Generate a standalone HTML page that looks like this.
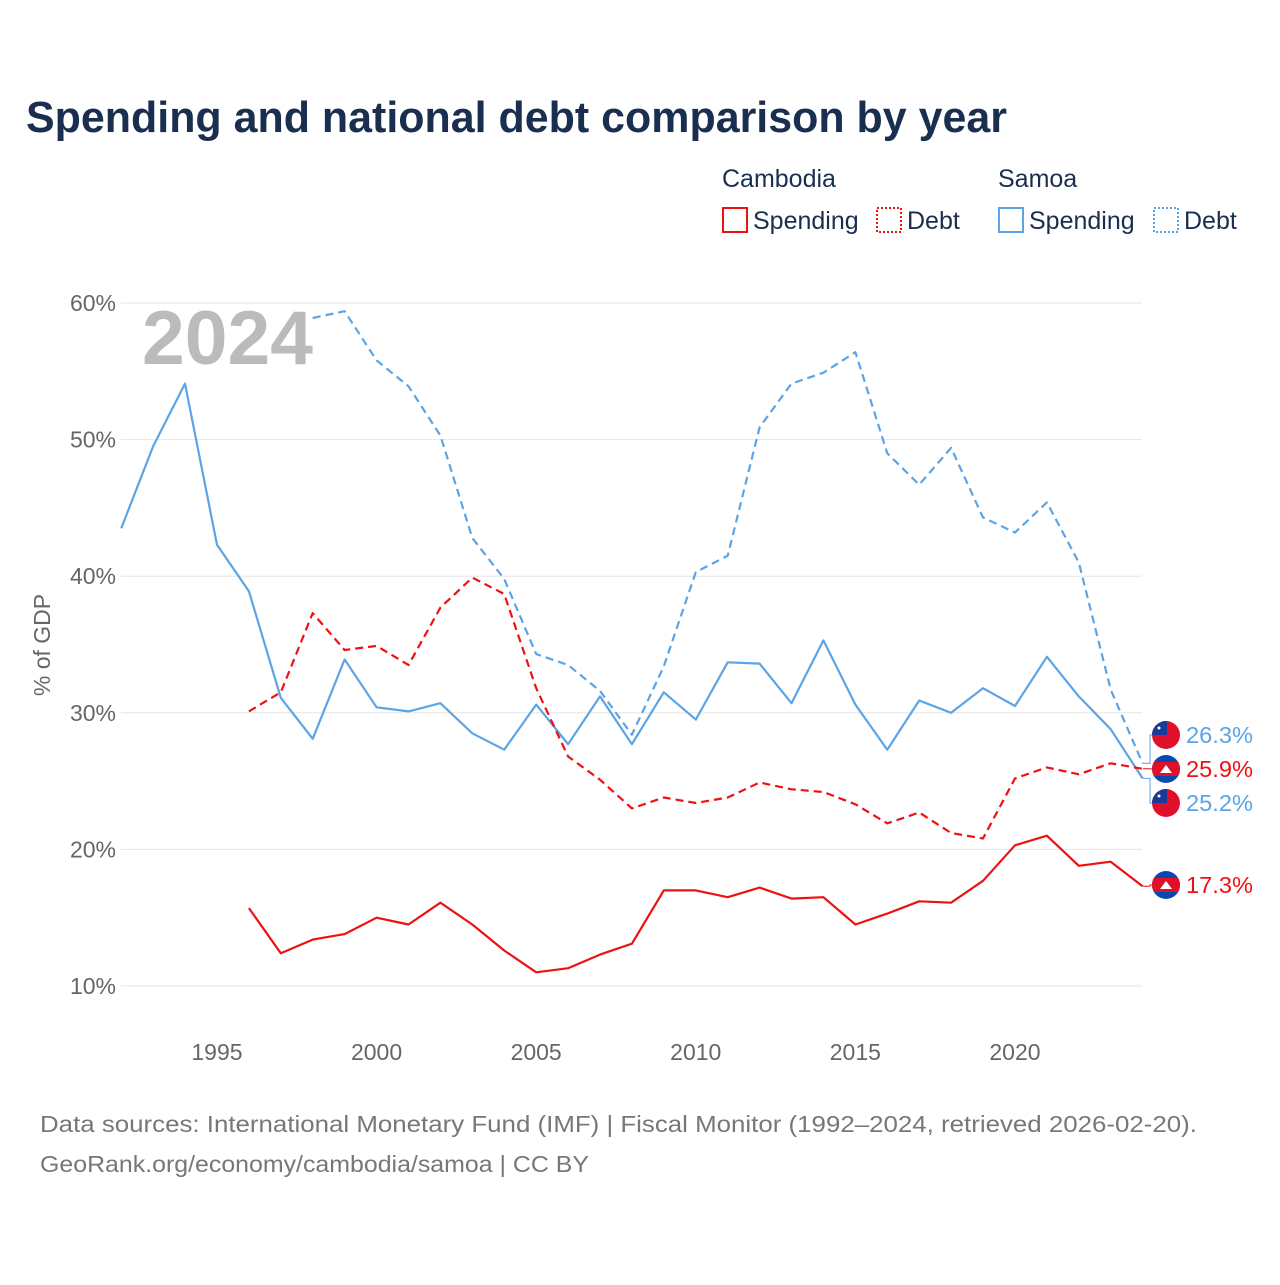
<!DOCTYPE html>
<html><head><meta charset="utf-8">
<style>
body{margin:0;background:#fff;width:1280px;height:1280px;overflow:hidden;font-family:"Liberation Sans",sans-serif}
</style></head>
<body>
<svg id="chart" width="1280" height="1280" xmlns="http://www.w3.org/2000/svg" font-family="Liberation Sans, sans-serif">
<text x="26" y="132" font-size="44" font-weight="bold" fill="#1a2e50" textLength="981" lengthAdjust="spacingAndGlyphs">Spending and national debt comparison by year</text>
<g font-size="25" fill="#1a2e50">
<text x="722" y="187">Cambodia</text><text x="998" y="187">Samoa</text>
<g><rect x="723" y="208" width="24" height="24" fill="none" stroke="#ee1111" stroke-width="2"/><text x="753" y="229">Spending</text></g>
<g><rect x="877" y="208" width="24" height="24" fill="none" stroke="#ee1111" stroke-width="2" stroke-dasharray="2,2"/><text x="907" y="229">Debt</text></g>
<g><rect x="999" y="208" width="24" height="24" fill="none" stroke="#5ba4e6" stroke-width="2"/><text x="1029" y="229">Spending</text></g>
<g><rect x="1154" y="208" width="24" height="24" fill="none" stroke="#5ba4e6" stroke-width="2" stroke-dasharray="2,2"/><text x="1184" y="229">Debt</text></g>
</g>
<g id="grid"></g>
<g id="yticks" font-size="23" fill="#666" text-anchor="end"></g>
<g id="xticks" font-size="23" fill="#666" text-anchor="middle"></g>
<text transform="translate(50,645) rotate(-90)" font-size="23" fill="#666" text-anchor="middle">% of GDP</text>
<text x="142" y="364" font-size="76" font-weight="bold" fill="#bbb" textLength="171" lengthAdjust="spacingAndGlyphs">2024</text>
<g id="series"></g>
<g id="endlabels" font-size="23"></g>
<text x="40" y="1132" font-size="23" fill="#777" textLength="1157" lengthAdjust="spacingAndGlyphs">Data sources: International Monetary Fund (IMF) | Fiscal Monitor (1992–2024, retrieved 2026-02-20).</text>
<text x="40" y="1172" font-size="23" fill="#777" textLength="549" lengthAdjust="spacingAndGlyphs">GeoRank.org/economy/cambodia/samoa | CC BY</text>
</svg>
<script>
const years=[];for(let y=1992;y<=2024;y++)years.push(y);
const yTicks=[10,20,30,40,50,60];
const xTicks=[1995,2000,2005,2010,2015,2020];
const samoaSpending=[43.5,49.5,54.1,42.3,38.9,31.1,28.1,33.9,30.4,30.1,30.7,28.5,27.3,30.6,27.7,31.2,27.7,31.5,29.5,33.7,33.6,30.7,35.3,30.6,27.3,30.9,30.0,31.8,30.5,34.1,31.2,28.8,25.2];
const samoaDebt=[null,null,null,null,null,null,58.9,59.4,55.8,53.9,50.3,42.8,39.8,34.3,33.5,31.6,28.4,33.4,40.3,41.5,50.9,54.1,54.9,56.4,49.0,46.7,49.4,44.3,43.2,45.4,41.0,31.7,26.3];
const cambodiaDebt=[null,null,null,null,30.1,31.5,37.3,34.6,34.9,33.5,37.7,39.9,38.7,31.8,26.8,25.1,23.0,23.8,23.4,23.8,24.9,24.4,24.2,23.3,21.9,22.7,21.2,20.8,25.2,26.0,25.5,26.3,25.9];
const cambodiaSpending=[null,null,null,null,15.7,12.4,13.4,13.8,15.0,14.5,16.1,14.5,12.6,11.0,11.3,12.3,13.1,17.0,17.0,16.5,17.2,16.4,16.5,14.5,15.3,16.2,16.1,17.7,20.3,21.0,18.8,19.1,17.3];
const NS="http://www.w3.org/2000/svg";
const X=y=>121.2+(y-1992)*31.92, Y=v=>986-(v-10)*13.66;
function mk(t,a,p){const e=document.createElementNS(NS,t);for(const k in a)e.setAttribute(k,a[k]);p.appendChild(e);return e;}
const grid=document.getElementById('grid'),yt=document.getElementById('yticks'),xt=document.getElementById('xticks');
yTicks.forEach(v=>{const l=mk('line',{x1:121,x2:1142,y1:Y(v),y2:Y(v),stroke:'#e6e6e6','stroke-width':1},grid);


const t=mk('text',{x:116,y:Y(v)+8},yt);t.textContent=v+'%';

});
xTicks.forEach(v=>{const t=mk('text',{x:X(v),y:1060},xt);t.textContent=v;

});
const S=document.getElementById('series');
function line(arr,color,dash,name){let d='';arr.forEach((v,i)=>{if(v==null)return;d+=(d?'L':'M')+X(years[i]).toFixed(1)+','+Y(v).toFixed(1);});
const p=mk('path',{d:d,fill:'none',stroke:color,'stroke-width':2.2,'stroke-dasharray':dash||'none','stroke-linejoin':'round'},S);

}
line(samoaDebt,'#5ba4e6','8,5','samoa-debt-line');
line(samoaSpending,'#5ba4e6','','samoa-spending-line');
line(cambodiaDebt,'#ee1111','8,5','cambodia-debt-line');
line(cambodiaSpending,'#ee1111','','cambodia-spending-line');
const E=document.getElementById('endlabels');
const last=years.length-1;
function flag(cx,cy,country){const g=mk('g',{},E);


const id='c'+Math.round(cy);const cp=mk('clipPath',{id:id},g);mk('circle',{cx:cx,cy:cy,r:14},cp);
const gg=mk('g',{'clip-path':'url(#'+id+')'},g);
if(country==='samoa'){mk('rect',{x:cx-14,y:cy-14,width:28,height:28,fill:'#e0102a'},gg);mk('rect',{x:cx-14,y:cy-14,width:15,height:14,fill:'#1a3a9a'},gg);mk('circle',{cx:cx-7,cy:cy-7,r:1.5,fill:'#fff'},gg);}
else{mk('rect',{x:cx-14,y:cy-14,width:28,height:28,fill:'#0a48b0'},gg);mk('rect',{x:cx-14,y:cy-7,width:28,height:14,fill:'#e0102a'},gg);mk('path',{d:`M${cx-6},${cy+4}L${cx},${cy-4}L${cx+6},${cy+4}Z`,fill:'#fff'},gg);}}
const labels=[{v:samoaDebt[last],y:735,c:'#5ba4e6',f:'samoa'},{v:cambodiaDebt[last],y:769,c:'#ee1111',f:'cambodia'},{v:samoaSpending[last],y:803,c:'#5ba4e6',f:'samoa'},{v:cambodiaSpending[last],y:885,c:'#ee1111',f:'cambodia'}];
labels.forEach(o=>{const ly=o.y;
const c=mk('path',{d:`M1143,${Y(o.v)}L1150,${Y(o.v)}L1150,${ly}L1155,${ly}`,fill:'none',stroke:o.c,'stroke-width':1},E);


flag(1166,ly,o.f);
const t=mk('text',{x:1186,y:ly+8,fill:o.c,textLength:67,lengthAdjust:'spacingAndGlyphs'},E);t.textContent=o.v.toFixed(1)+'%';

});
</script>
</body></html>
